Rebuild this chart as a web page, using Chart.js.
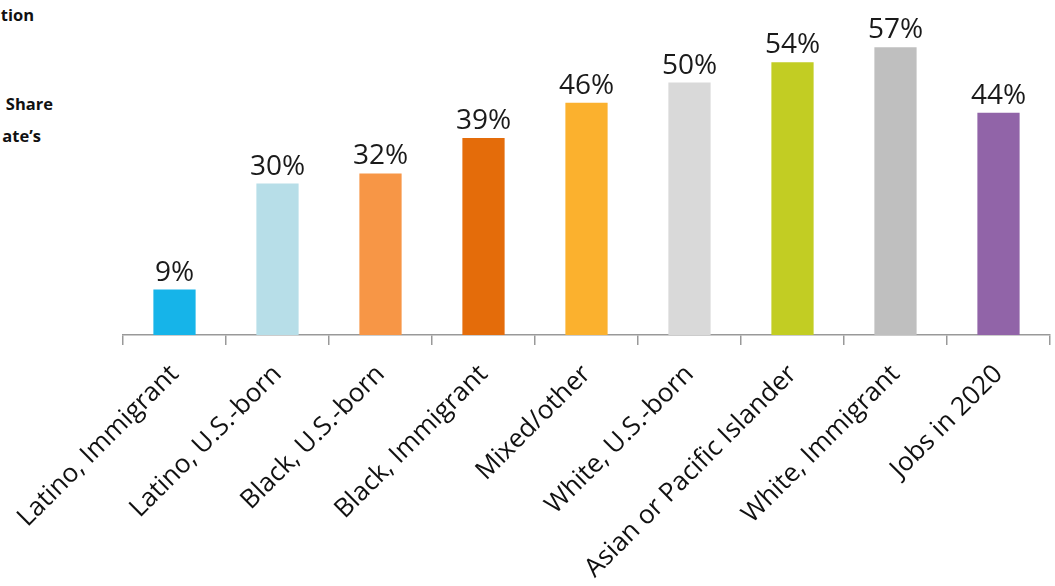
<!DOCTYPE html>
<html>
<head>
<meta charset="utf-8">
<script src="https://cdn.jsdelivr.net/npm/chart.js@4"></script>
<style>
  html, body { margin: 0; padding: 0; background: #fff; }
  #wrap { position: relative; width: 1055px; height: 586px; overflow: hidden; }
  #chart { position: absolute; left: 0; top: 0; }
  .note { position: absolute; font-family: "Open Sans", sans-serif; font-weight: 700; font-size: 16.5px; color: #111; white-space: nowrap; }
</style>
</head>
<body>
<div id="wrap">
  <div class="note" style="right:1021px; top:3px;">tion</div>
  <div class="note" style="right:1002px; top:92px;">Share</div>
  <div class="note" style="right:1014px; top:124px;">ate’s</div>
  <canvas id="chart" width="1055" height="586"></canvas>
</div>
<script>
const categories = ["Latino, Immigrant", "Latino, U.S.-born", "Black, U.S.-born", "Black, Immigrant",
  "Mixed/other", "White, U.S.-born", "Asian or Pacific Islander", "White, Immigrant", "Jobs in 2020"];
const shares = [9, 30, 32, 39, 46, 50, 54, 57, 44];
const barColors = ["#16b4e9", "#b7dee8", "#f79646", "#e46c0a", "#fbb12e", "#d9d9d9", "#c2cd23", "#bfbfbf", "#9164a8"];

// percent labels above each bar
const valueLabels = {
  id: "valueLabels",
  afterDatasetsDraw(chart) {
    const ctx = chart.ctx;
    const meta = chart.getDatasetMeta(0);
    ctx.save();
    ctx.font = "400 28px 'Open Sans', sans-serif";
    ctx.fillStyle = "#1a1a1a";
    ctx.textAlign = "center";
    ctx.textBaseline = "alphabetic";
    meta.data.forEach((bar, i) => {
      ctx.fillText(shares[i] + "%", bar.x, bar.y - 9);
    });
    ctx.restore();
  }
};

new Chart(document.getElementById("chart"), {
  type: "bar",
  data: {
    labels: categories,
    datasets: [{
      data: shares,
      backgroundColor: barColors,
      barPercentage: 0.41,
      categoryPercentage: 1
    }]
  },
  options: {
    responsive: false,
    animation: false,
    layout: { padding: { top: 32, left: 123, right: 5 } },
    plugins: { legend: { display: false }, tooltip: { enabled: false } },
    scales: {
      y: { display: false, min: 0, max: 60 },
      x: {
        afterFit(scale) { scale.height = 251; },
        border: { color: "#999", width: 1.5 },
        grid: { offset: true, drawOnChartArea: false, tickLength: 10, color: "#999", lineWidth: 1.5 },
        ticks: {
          color: "#111",
          font: { family: "'Open Sans', sans-serif", size: 26 },
          minRotation: 45,
          maxRotation: 45,
          autoSkip: false,
          padding: 14
        }
      }
    }
  },
  plugins: [valueLabels]
});
</script>
</body>
</html>
